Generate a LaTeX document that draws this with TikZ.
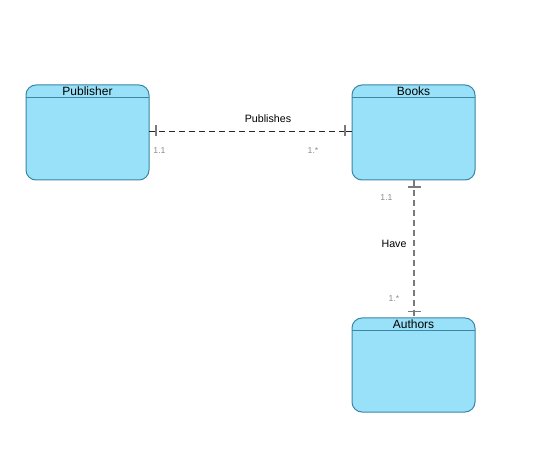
\documentclass[tikz,border=0pt]{standalone}
\usepackage{fontspec}
\setmainfont{Liberation Sans}
\begin{document}
\begin{tikzpicture}[x=0.75pt,y=-0.75pt,
  entity/.style={draw=ebord,fill=efill,line width=0.75pt,rounded corners=7.5pt},
  rel/.style={dashed,dash pattern=on 4.5pt off 3pt,line width=0.6pt},
  tickmark/.style={draw=tickgray,line width=1.4pt},
  card/.style={font=\fontsize{6.5}{7}\selectfont,text=cardgray,inner sep=0pt},
  title/.style={font=\fontsize{9}{10}\selectfont,inner sep=0pt},
  rlabel/.style={font=\fontsize{8}{9}\selectfont,inner sep=0pt}]
\definecolor{efill}{HTML}{99E1F8}
\definecolor{ebord}{HTML}{3A86A6}
\definecolor{tickgray}{HTML}{7A7A7A}
\definecolor{cardgray}{HTML}{8C8C8C}
\useasboundingbox (0,0) rectangle (553,466);
% entities
\draw[entity] (26,85) rectangle (149,180);
\draw[ebord,line width=0.75pt] (26,98) -- (149,98);
\node[title] (pub) at (87.5,91) {Publisher};
\coordinate (pubE) at (149,131);
\draw[entity] (352,85) rectangle (475,180);
\draw[ebord,line width=0.75pt] (352,98) -- (475,98);
\node[title] (books) at (413.5,91) {Books};
\coordinate (booksW) at (352,131);
\coordinate (booksS) at (414,180);
\draw[entity] (352,318) rectangle (475,412);
\draw[ebord,line width=0.75pt] (352,331) -- (475,331);
\node[title] (auth) at (413.5,324) {Authors};
\coordinate (authN) at (414,318);
% Publishes
\draw[rel,black!85] (pubE) -- (booksW);
\draw[black!85,line width=0.6pt] (pubE) -- (156,131);
\draw[black!85,line width=0.6pt] (345,131) -- (booksW);
\draw[tickmark] (156,125.5) -- (156,136.5);
\draw[tickmark] (345,125.5) -- (345,136.5);
\node[rlabel] (publ) at (268,119) {Publishes};
\node[card] (c1) at (159.5,151) {1.1};
\node[card] (c2) at (313,151) {1.*};
% Have
\draw[rel,tickgray,line width=1.3pt] (booksS) -- (authN);
\draw[tickmark] (407.5,187) -- (420.5,187);
\draw[tickmark] (407.5,311.5) -- (420.5,311.5);
\node[rlabel] (have) at (394,244) {Have};
\node[card] (c3) at (386.5,198) {1.1};
\node[card] (c4) at (394,299) {1.*};
\end{tikzpicture}
\end{document}
